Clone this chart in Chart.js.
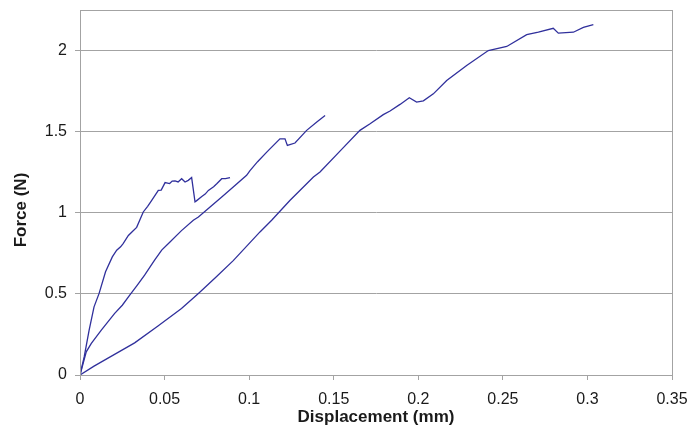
<!DOCTYPE html>
<html>
<head>
<meta charset="utf-8">
<script src="https://cdn.jsdelivr.net/npm/chart.js@4.4.1/dist/chart.umd.min.js"></script>
<style>
html,body{margin:0;padding:0;background:#fff;}
#c{display:block;}
</style>
</head>
<body>
<canvas id="c" width="691" height="436"></canvas>
<script>
// Displacement (mm) / Force (N) pairs
const curve1X = [0, 0.0025, 0.0054, 0.0083, 0.0113, 0.0151, 0.0191, 0.0217, 0.0240, 0.0255, 0.0286, 0.0310, 0.0335, 0.0374, 0.0400, 0.0424, 0.0463, 0.0480, 0.0503, 0.0530, 0.0545, 0.0562, 0.0580, 0.0601, 0.0621, 0.0640, 0.0660, 0.0680, 0.0690, 0.0720, 0.0740, 0.0759, 0.0790, 0.0810, 0.0838, 0.0860, 0.0887];
const curve1Y = [0, 0.113, 0.277, 0.42, 0.503, 0.636, 0.728, 0.769, 0.79, 0.81, 0.86, 0.885, 0.91, 1.005, 1.04, 1.077, 1.138, 1.14, 1.186, 1.18, 1.195, 1.196, 1.19, 1.21, 1.19, 1.20, 1.217, 1.067, 1.075, 1.10, 1.115, 1.138, 1.16, 1.18, 1.21, 1.21, 1.217];

const curve2X = [0, 0.0037, 0.0067, 0.0126, 0.0205, 0.0250, 0.0294, 0.0340, 0.0382, 0.0441, 0.0483, 0.0532, 0.0600, 0.0670, 0.0700, 0.0769, 0.0838, 0.0906, 0.0985, 0.1005, 0.1050, 0.1104, 0.1182, 0.1212, 0.1226, 0.1271, 0.1340, 0.1400, 0.1449];
const curve2Y = [0, 0.143, 0.195, 0.277, 0.38, 0.43, 0.492, 0.555, 0.615, 0.708, 0.77, 0.82, 0.89, 0.954, 0.974, 1.036, 1.097, 1.159, 1.231, 1.26, 1.315, 1.374, 1.456, 1.456, 1.415, 1.43, 1.508, 1.56, 1.60];

const curve3X = [0, 0.0083, 0.0181, 0.0323, 0.0461, 0.060, 0.070, 0.080, 0.0906, 0.1064, 0.1133, 0.1242, 0.130, 0.138, 0.1419, 0.1537, 0.1655, 0.1715, 0.1793, 0.1833, 0.1892, 0.1947, 0.199, 0.203, 0.2089, 0.2168, 0.2286, 0.2414, 0.2523, 0.2641, 0.271, 0.2798, 0.2828, 0.2917, 0.2976, 0.3035];
const curve3Y = [0, 0.055, 0.113, 0.198, 0.302, 0.41, 0.503, 0.60, 0.705, 0.882, 0.954, 1.077, 1.137, 1.22, 1.251, 1.38, 1.508, 1.549, 1.605, 1.627, 1.668, 1.709, 1.682, 1.69, 1.733, 1.815, 1.908, 2.0, 2.025, 2.098, 2.113, 2.137, 2.107, 2.113, 2.143, 2.16];

const xTickValues = [0, 0.05, 0.1, 0.15, 0.2, 0.25, 0.3, 0.35];
const yTickValues = [0, 0.5, 1, 1.5, 2];
const xTitle = 'Displacement (mm)';
const yTitle = 'Force (N)';

const lineColor = '#30309c';
const gridColor = '#a3a3a3';
const textColor = '#1a1a1a';
const fontFamily = '"Liberation Sans", Arial, sans-serif';

function pairs(xs, ys) { return xs.map((x, i) => ({x: x, y: ys[i]})); }
function ds(xs, ys) {
  return {data: pairs(xs, ys), showLine: true, borderColor: lineColor, borderWidth: 1.3,
          pointRadius: 0, pointHoverRadius: 0, fill: false, tension: 0};
}

const frame = {
  id: 'frame',
  afterDraw(chart) {
    const {ctx, chartArea: a} = chart;
    ctx.save();
    ctx.strokeStyle = gridColor;
    ctx.lineWidth = 1;
    ctx.strokeRect(Math.round(a.left) + 0.5, Math.round(a.top) + 0.5,
                   Math.round(a.right - a.left), Math.round(a.bottom - a.top));
    ctx.translate(21, 210);
    ctx.rotate(-Math.PI / 2);
    ctx.fillStyle = textColor;
    ctx.font = 'bold 17px ' + fontFamily;
    ctx.textAlign = 'center';
    ctx.textBaseline = 'middle';
    ctx.fillText(yTitle, 0, 0);
    ctx.restore();
  }
};

new Chart(document.getElementById('c'), {
  type: 'scatter',
  data: { datasets: [ds(curve1X, curve1Y), ds(curve2X, curve2Y), ds(curve3X, curve3Y)] },
  options: {
    responsive: false,
    animation: false,
    layout: { padding: { top: 10, right: 19, left: 0, bottom: 0 } },
    plugins: { legend: { display: false }, tooltip: { enabled: false } },
    scales: {
      x: {
        type: 'linear', min: 0, max: 0.35,
        afterFit(s) { s.height = 61; s.paddingLeft = 0; s.paddingRight = 0; },
        afterBuildTicks(s) { s.ticks = xTickValues.map(v => ({value: v})); },
        ticks: { color: textColor, font: { family: fontFamily, size: 16 }, padding: 10,
                 maxRotation: 0, autoSkip: false,
                 callback: v => String(Number(v.toFixed(2))) },
        grid: { drawOnChartArea: false, drawTicks: true, tickLength: 5, color: gridColor },
        border: { color: gridColor },
        title: { display: true, text: xTitle, color: textColor,
                 font: { family: fontFamily, size: 17, weight: 'bold' },
                 padding: { top: 0, bottom: 8 } }
      },
      y: {
        type: 'linear', min: 0, max: 2.25,
        afterFit(s) { s.width = 80; s.paddingTop = 0; s.paddingBottom = 0; },
        afterBuildTicks(s) { s.ticks = yTickValues.map(v => ({value: v})); },
        ticks: { color: textColor, font: { family: fontFamily, size: 16 }, padding: 8,
                 callback: v => String(Number(v.toFixed(2))) },
        grid: { drawOnChartArea: true, drawTicks: true, tickLength: 5, color: gridColor },
        border: { color: gridColor }
      }
    }
  },
  plugins: [frame]
});
</script>
</body>
</html>
